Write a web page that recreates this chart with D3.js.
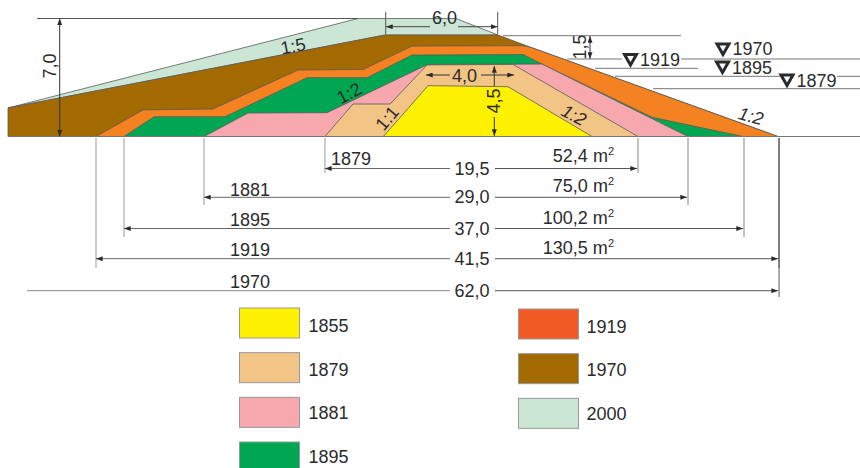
<!DOCTYPE html>
<html>
<head>
<meta charset="utf-8">
<script src="https://cdn.jsdelivr.net/npm/d3@7"></script>
<style>
  html, body { margin: 0; padding: 0; background: #fff; overflow: hidden; }
  text { font-family: "Liberation Sans", Arial, sans-serif; font-size: 18px; fill: #2b2b2b; }
</style>
</head>
<body>
<div id="chartwrap"></div>
<script>
const WIDTH = 860;
const HEIGHT = 468;
const BASE_Y = 136.5;

// cross sections, back to front: distance along the dam (m), height above base (m)
const years = ['2000', '1970', '1919', '1895', '1881', '1879', '1855'];
const fills = ['#CCE6D6', '#A36A00', '#F58220', '#00A651', '#F7A8AE', '#F2C485', '#FFF200'];
const dist2000 = [0.5, 22.375, 28.5, 31.125, 24.06];
const high2000 = [1.68, 6.94, 6.94, 5.97, 5.97];
const dist1970 = [0.5, 0.5, 24.06, 31.125, 33.125, 48.625];
const high1970 = [0, 1.68, 5.97, 5.97, 5.26, 0];
const dist1919 = [6, 8.94, 13.31, 18.63, 22.69, 25.75, 32.69, 33.125, 48.625];
const high1919 = [0, 1.56, 1.62, 3.91, 3.94, 5.32, 5.34, 5.26, 0];
const dist1895 = [7.75, 9.63, 14.06, 19.19, 22.94, 25.75, 32.69, 33.875, 40.75, 46.44];
const high1895 = [0, 1.16, 1.16, 3.46, 3.46, 4.79, 4.82, 4.26, 1.13, 0];
const dist1881 = [12.75, 15.5, 20.44, 26.56, 26.88, 33.875, 43];
const high1881 = [0, 1.38, 1.4, 4.16, 4.24, 4.26, 0];
const dist1879 = [20.31, 22.06, 24.38, 26.69, 32.06, 39.875];
const high1879 = [0, 1.91, 1.91, 4.21, 4.24, 0];
const dist1855 = [23.96, 26.75, 31.75, 37];
const high1855 = [0, 2.99, 2.93, 0];

const dists = [dist2000, dist1970, dist1919, dist1895, dist1881, dist1879, dist1855];
const highs = [high2000, high1970, high1919, high1895, high1881, high1879, high1855];

// width dimensions under the section
const dimYears = ['1879', '1881', '1895', '1919', '1970'];
const dimWidths = ['19,5', '29,0', '37,0', '41,5', '62,0'];
const dimAreas = ['52,4', '75,0', '100,2', '130,5', ''];
const dimLeft = [20.31, 12.75, 7.75, 6, 1.69];
const dimRight = [39.875, 43, 46.5, 48.69, 48.69];

const legendLeft = ['1855', '1879', '1881', '1895'];
const legendRight = ['1919', '1970', '2000'];
const legendColors = {
  1855: '#FFF200', 1879: '#F2C485', 1881: '#F7A8AE', 1895: '#00A651',
  1919: '#F15A24', 1970: '#A36A00', 2000: '#CCE6D6'
};

const xScale = d3.scaleLinear().domain([0, 53.75]).range([0, WIDTH]);
const yScale = d3.scaleLinear().domain([0, 7]).range([BASE_Y, BASE_Y - 119]);

const svg = d3.select('#chartwrap')
  .append('svg')
  .attr('width', WIDTH)
  .attr('height', HEIGHT)
  .style('display', 'block');

const defs = svg.append('defs');
defs.append('marker')
  .attr('id', 'arrow')
  .attr('viewBox', '0 0 8 6')
  .attr('refX', 8)
  .attr('refY', 3)
  .attr('markerWidth', 7)
  .attr('markerHeight', 5)
  .attr('markerUnits', 'userSpaceOnUse')
  .attr('orient', 'auto-start-reverse')
  .append('path')
  .attr('d', 'M0,0L8,3L0,6Z')
  .attr('fill', '#2b2b2b');

const line = d3.line().x(d => xScale(d[0])).y(d => yScale(d[1]));

svg.selectAll('path.layer')
  .data(years)
  .enter()
  .append('path')
  .attr('class', 'layer')
  .attr('d', (d, i) => line(d3.zip(dists[i], highs[i])) + 'Z')
  .attr('fill', (d, i) => fills[i])
  .attr('stroke', '#5a5a5a')
  .attr('stroke-width', 0.8)
  .attr('stroke-linejoin', 'round');

function rule(x1, y1, x2, y2, color, w) {
  return svg.append('line')
    .attr('x1', x1).attr('y1', y1)
    .attr('x2', x2).attr('y2', y2)
    .attr('stroke', color || '#666')
    .attr('stroke-width', w || 1);
}

function label(txt, x, y, rot) {
  const t = svg.append('text').text(txt);
  if (rot === undefined) {
    t.attr('x', x).attr('y', y);
  } else {
    t.attr('text-anchor', 'middle')
      .attr('dy', '.35em')
      .attr('transform', `translate(${x},${y}) rotate(${rot})`);
  }
  return t;
}

// base line and crest line
rule(xScale(0.5), BASE_Y, WIDTH, BASE_Y, '#777', 1.2);
rule(37, 18.5, 358, 18.5, '#555', 1);

// width dimensions
const rowY = [168.5, 197.3, 228.5, 258.7, 290.7];
const extEnd = [173, 205, 237, 268, 297];
const yearBase = [165, 195.7, 225.7, 255.7, 288.3];
const yearX = [331, 230, 230, 230, 230];
const areaBase = [162, 192, 223.7, 254.3];

dimYears.forEach((yr, i) => {
  const left = xScale(dimLeft[i]);
  const right = xScale(dimRight[i]);
  if (i < 4) {
    rule(left, 138, left, extEnd[i], '#aaa', 1.2);
    rule(left, rowY[i], 450, rowY[i], '#666', 1).attr('marker-start', 'url(#arrow)');
  } else {
    rule(left, rowY[i], 450, rowY[i], '#888', 1);
  }
  rule(right, 138, right, extEnd[i], i < 3 ? '#999' : '#555', i < 3 ? 1.2 : 1);
  rule(495, rowY[i], right - 1, rowY[i], '#555', 1).attr('marker-end', 'url(#arrow)');
  label(yr, yearX[i], yearBase[i]);
  label(dimWidths[i], 472, rowY[i] + 6).attr('text-anchor', 'middle');
  if (dimAreas[i]) {
    const t = label(dimAreas[i] + ' m', 614, areaBase[i]).attr('text-anchor', 'end');
    t.append('tspan').attr('dy', -7).style('font-size', '11px').text('2');
  }
});

// height and crest dimensions
rule(59.7, 18.5, 59.7, BASE_Y, '#333', 1)
  .attr('marker-start', 'url(#arrow)').attr('marker-end', 'url(#arrow)');
label('7,0', 50, 66, -90);

rule(385.7, 12, 385.7, 34, '#555', 1);
rule(497.7, 12, 497.7, 34, '#555', 1);
rule(386, 26.7, 430, 26.7, '#444', 1).attr('marker-start', 'url(#arrow)');
rule(458, 26.7, 497.5, 26.7, '#444', 1).attr('marker-end', 'url(#arrow)');
label('6,0', 444.5, 24).attr('text-anchor', 'middle');

rule(590, 36, 590, 59, '#333', 1)
  .attr('marker-start', 'url(#arrow)').attr('marker-end', 'url(#arrow)');
label('1,5', 580, 47, -90);

rule(426, 75, 450, 75, '#333', 1).attr('marker-start', 'url(#arrow)');
rule(481, 75, 514, 75, '#333', 1).attr('marker-end', 'url(#arrow)');
label('4,0', 464.5, 82).attr('text-anchor', 'middle');

rule(494.3, 66, 494.3, 86, '#333', 1).attr('marker-start', 'url(#arrow)');
rule(494.3, 117, 494.3, 136, '#333', 1).attr('marker-end', 'url(#arrow)');
label('4,5', 494, 101, -90);

// slope labels
const slopeText = ['1:5', '1:2', '1:1', '1:2', '1:2'];
const slopeX = [293, 349, 387, 574, 751];
const slopeY = [46, 93, 118, 115, 116];
const slopeRot = [-11, -28, -50, 28, 15];
slopeText.forEach((s, i) => {
  label(s, slopeX[i], slopeY[i], slopeRot[i]).style('font-style', i > 2 ? 'italic' : 'normal');
});

// water levels
const levelLines = [
  [503, 681, 35.7], [567, 622, 59], [681, 860, 59], [595, 698, 68.3],
  [615, 780, 76.3], [837, 860, 76.3], [653, 860, 88.7]
];
levelLines.forEach(l => rule(l[0], l[2], l[1], l[2], '#777', 1));

const levelYears = ['1919', '1970', '1895', '1879'];
const levelX = [630.5, 723, 722.5, 787];
const levelY = [58, 47.5, 65.5, 78.5];
const levelBase = [66, 55, 74, 86.7];
const triangle = d3.symbol().type(d3.symbolTriangle).size(62);

levelYears.forEach((yr, i) => {
  svg.append('path')
    .attr('d', triangle)
    .attr('transform', `translate(${levelX[i]},${levelY[i]}) rotate(180)`)
    .attr('fill', '#fff')
    .attr('stroke', '#2b2b2b')
    .attr('stroke-width', 3)
    .attr('stroke-linejoin', 'miter');
  label(yr, levelX[i] + 9.5, levelBase[i]);
});

// legend
const legendY = d3.scalePoint().domain([0, 1, 2, 3]).range([308, 442]);
const legendBase = d3.scalePoint().domain([0, 1, 2, 3]).range([332, 463]);

function drawLegend(items, x, textX, dy) {
  const g = svg.append('g').selectAll('g')
    .data(items)
    .enter()
    .append('g');
  g.append('rect')
    .attr('x', x)
    .attr('y', (d, i) => legendY(i) + dy)
    .attr('width', 60)
    .attr('height', 30)
    .attr('fill', d => legendColors[d])
    .attr('stroke', '#999')
    .attr('stroke-width', 1);
  g.append('text')
    .attr('x', textX)
    .attr('y', (d, i) => legendBase(i) + dy * 0.5)
    .text(d => d);
}

drawLegend(legendLeft, 239.5, 308.5, 0);
drawLegend(legendRight, 518.5, 586.5, 1);
</script>
</body>
</html>
